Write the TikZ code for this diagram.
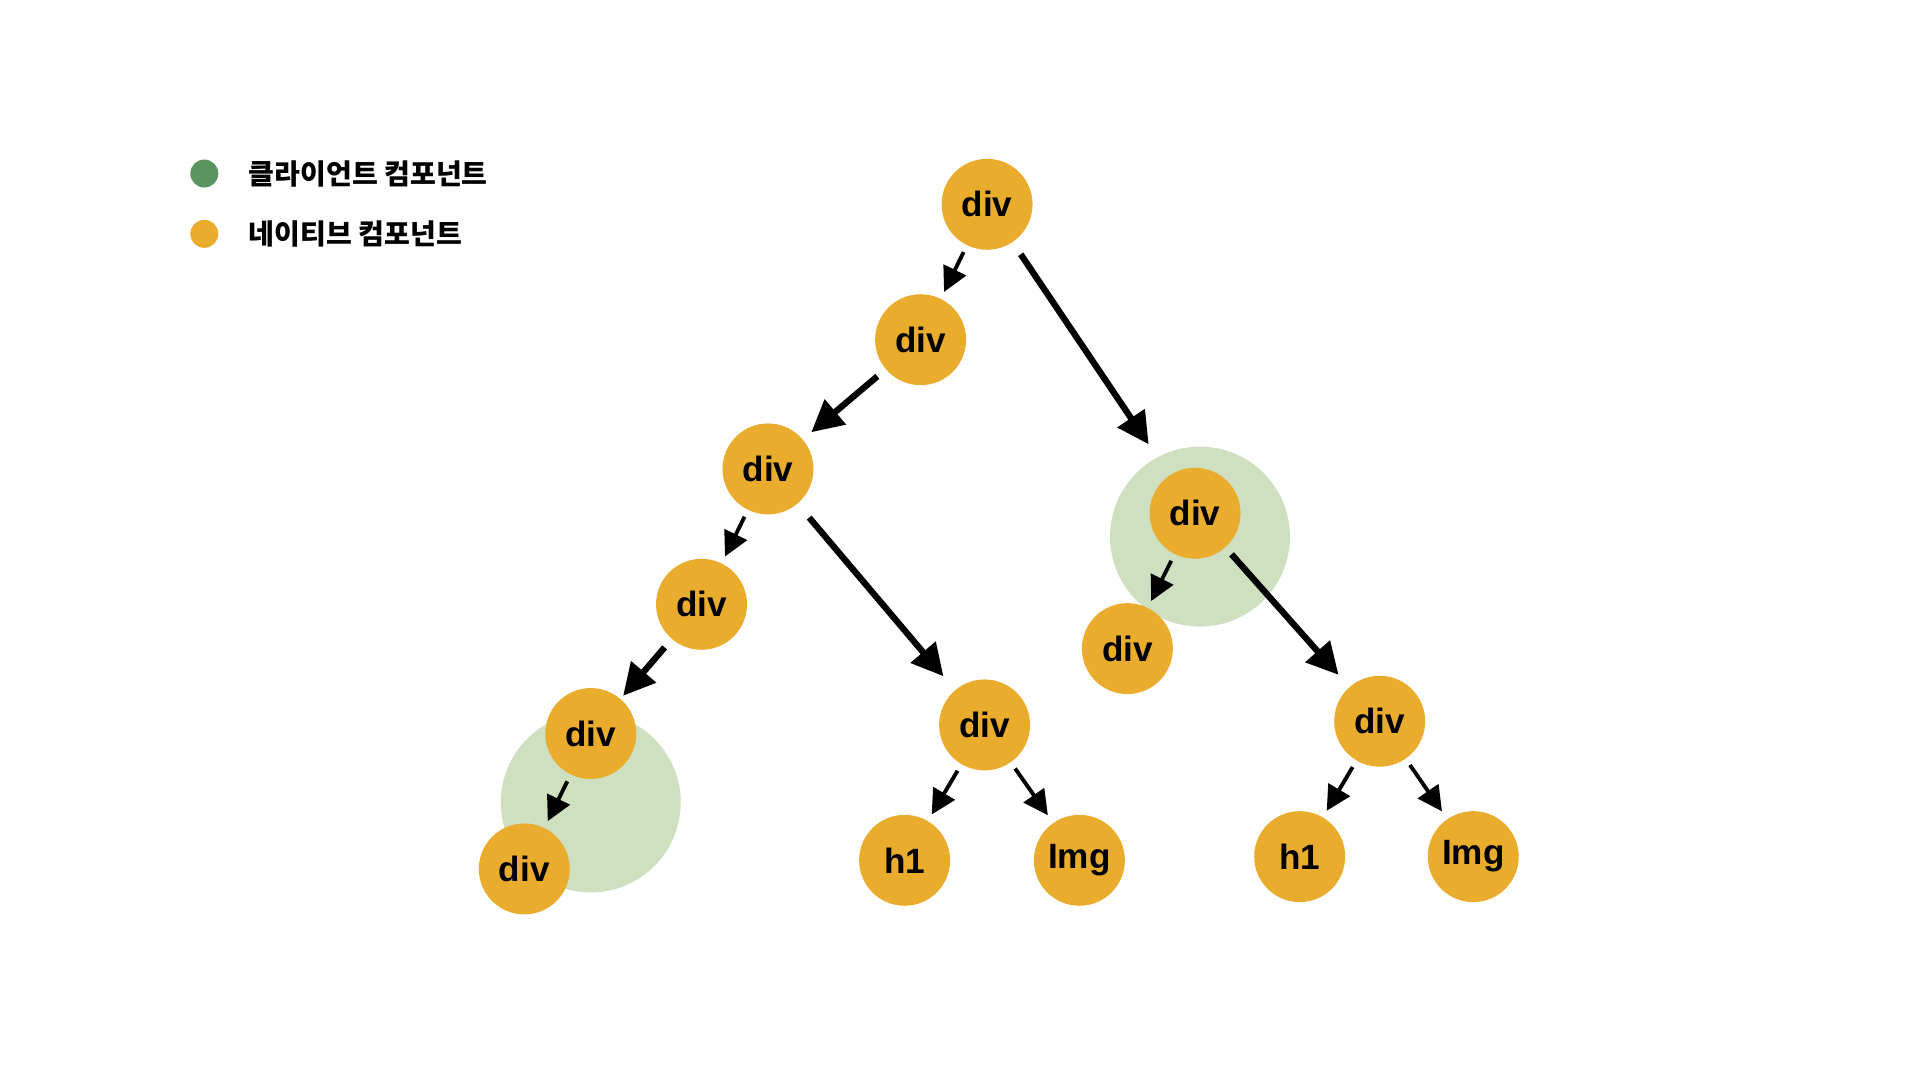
\documentclass[tikz,border=0pt]{standalone}
\usepackage{fontspec}
\setmainfont{Liberation Sans}
\newfontfamily\kr{Noto Sans CJK KR}
\usetikzlibrary{arrows.meta}
\definecolor{nativeorange}{HTML}{E9AC2D}
\definecolor{clientgreen}{HTML}{5A9460}
\definecolor{clientshade}{HTML}{CFE0C0}

\begin{document}
\begin{tikzpicture}[x=0.012308cm, y=-0.012308cm,
    comp/.style={circle, fill=nativeorange, minimum size=0.91cm, inner sep=0pt, font=\bfseries\fontsize{10}{12}\selectfont},
    shortedge/.style={line width=1.1pt, -{Triangle[length=7pt,width=7pt]}},
    longedge/.style={line width=1.8pt, -{Triangle[length=9pt,width=9pt]}}]
    % Fix the canvas size
    \useasboundingbox (0,0) rectangle (1560,877.5);
    % Client component areas
    \fill[clientshade] (975,436) circle (0.9cm);
    \fill[clientshade] (480,652) circle (0.9cm);
    % Legend
    \node[circle, fill=clientgreen, minimum size=0.28cm, inner sep=0pt] (lg) at (166,141) {};
    \node[anchor=west, font=\kr\bfseries\fontsize{8}{10}\selectfont] (lgt) at (192,141) {클라이언트 컴포넌트};
    \node[circle, fill=nativeorange, minimum size=0.28cm, inner sep=0pt] (ln) at (166,190) {};
    \node[anchor=west, font=\kr\bfseries\fontsize{8}{10}\selectfont] (lnt) at (192,190) {네이티브 컴포넌트};
    % Tree nodes
    \node[comp] (r) at (802,166) {div};
    \node[comp] (a) at (748,276) {div};
    \node[comp] (b) at (624,381) {div};
    \node[comp] (c) at (570,491) {div};
    \node[comp] (d) at (480,596) {div};
    \node[comp] (e) at (426,706) {div};
    \node[comp] (f) at (800,589) {div};
    \node[comp] (g) at (735,699) {h1};
    \node[comp] (h) at (877,699) {Img};
    \node[comp] (i) at (971,417) {div};
    \node[comp] (j) at (916,527) {div};
    \node[comp] (k) at (1121,586) {div};
    \node[comp] (l) at (1056,696) {h1};
    \node[comp] (m) at (1197,696) {Img};
    % Connectors
    \draw[shortedge, shorten <=2pt, shorten >=2pt] (r) -- (a);
    \draw[longedge, shorten <=4pt, shorten >=10.5pt] (r) -- (i);
    \draw[longedge, shorten <=3pt, shorten >=3pt] (a) -- (b);
    \draw[shortedge, shorten <=2pt, shorten >=2pt] (b) -- (c);
    \draw[longedge, shorten <=5pt, shorten >=5pt] (b) -- (f);
    \draw[longedge, shorten <=3pt, shorten >=1pt] (c) -- (d);
    \draw[shortedge, shorten <=2pt, shorten >=2pt] (d) -- (e);
    \draw[shortedge, shorten <=2pt, shorten >=2pt] (f) -- (g);
    \draw[shortedge, shorten <=2pt, shorten >=2.5pt] (f) -- (h);
    \draw[shortedge, shorten <=2pt, shorten >=2pt] (i) -- (j);
    \draw[longedge, shorten <=2.5pt, shorten >=4.5pt] (i) -- (k);
    \draw[shortedge, shorten <=2pt, shorten >=2pt] (k) -- (l);
    \draw[shortedge, shorten <=2pt, shorten >=2.5pt] (k) -- (m);
\end{tikzpicture}
\end{document}
